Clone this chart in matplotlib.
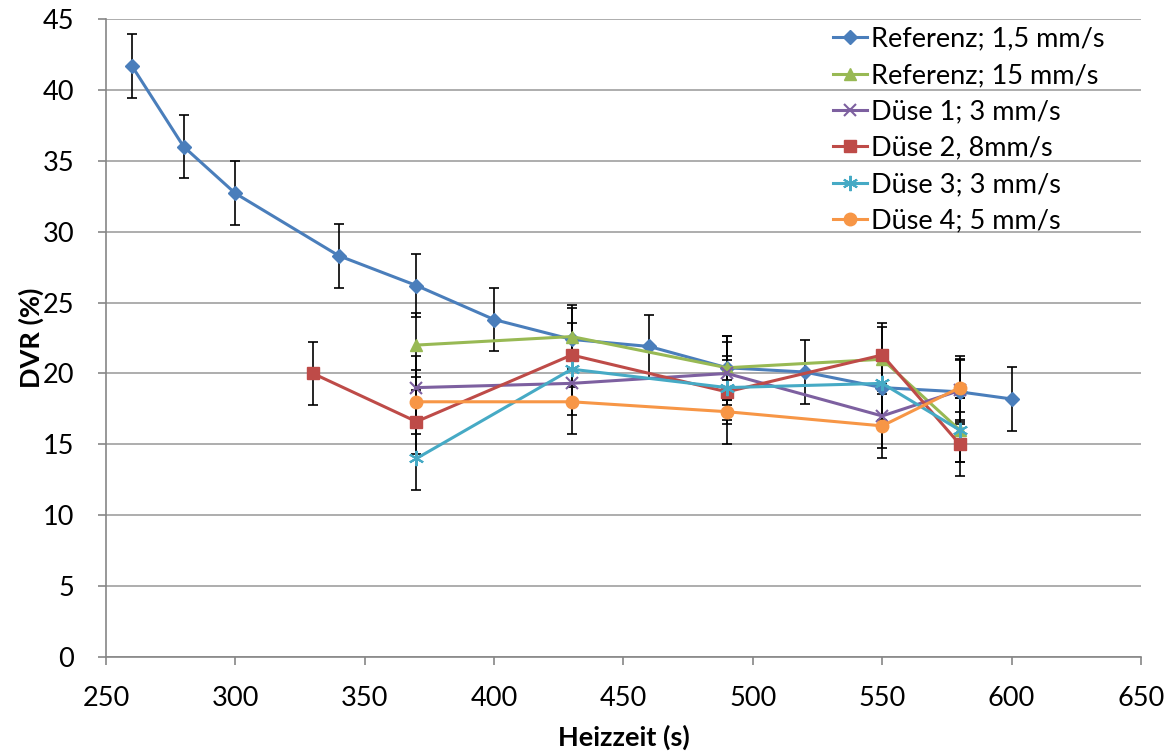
import matplotlib
matplotlib.use("Agg")
import matplotlib.pyplot as plt

plt.rcParams['font.family'] = ['Lato', 'DejaVu Sans']

# Heating time (s) and DVR (%) per series
ref15_x = [260, 280, 300, 340, 370, 400, 430, 460, 490, 520, 550, 580, 600]
ref15_y = [41.7, 36.0, 32.7, 28.3, 26.2, 23.8, 22.4, 21.9, 20.4, 20.1, 19.0, 18.7, 18.2]

ref150_x = [370, 430, 490, 550, 580]
ref150_y = [22.0, 22.6, 20.4, 21.0, 16.0]

d1_x = [370, 430, 490, 550, 580]
d1_y = [19.0, 19.3, 20.0, 17.0, 18.8]

d2_x = [330, 370, 430, 490, 550, 580]
d2_y = [20.0, 16.6, 21.3, 18.7, 21.3, 15.0]

d3_x = [370, 430, 490, 550, 580]
d3_y = [14.0, 20.3, 19.0, 19.3, 16.0]

d4_x = [370, 430, 490, 550, 580]
d4_y = [18.0, 18.0, 17.3, 16.3, 19.0]

err = 2.25

series = [
    ("Referenz; 1,5 mm/s", ref15_x, ref15_y, "#4A7EBB", "D", 7),
    ("Referenz; 15 mm/s", ref150_x, ref150_y, "#98B954", "^", 9),
    ("Düse 1; 3 mm/s", d1_x, d1_y, "#7D60A0", "x", 9),
    ("Düse 2, 8mm/s", d2_x, d2_y, "#BE4B48", "s", 8),
    ("Düse 3; 3 mm/s", d3_x, d3_y, "#46AAC5", (6, 2, 0), 11),
    ("Düse 4; 5 mm/s", d4_x, d4_y, "#F79646", "o", 9),
]

fig = plt.figure(figsize=(11.72, 7.53), dpi=100)
ax = fig.add_axes([0.0904, 0.1275, 0.8831, 0.8473])

for label, xs, ys, col, mk, ms in series:
    ax.errorbar(xs, ys, yerr=err, fmt='none', ecolor='black', elinewidth=1.2,
                capsize=3.8, capthick=1.2, zorder=2)
    ax.plot(xs, ys, color=col, marker=mk, markersize=ms, linewidth=2.2,
            markeredgewidth=1.5 if mk in ("x", (6, 2, 0)) else 1,
            markeredgecolor=col, label=label, zorder=3)

ax.set_xlim(250, 650)
ax.set_ylim(0, 45)
ax.set_xticks(range(250, 651, 50))
ax.set_yticks(range(0, 46, 5))
ax.yaxis.grid(True, color='#A0A0A0', linewidth=1.2)
ax.set_axisbelow(True)
for s in ('top', 'right'):
    ax.spines[s].set_visible(False)
for s in ('left', 'bottom'):
    ax.spines[s].set_color('#868686')
    ax.spines[s].set_linewidth(1.2)
ax.tick_params(axis='both', direction='out', length=6, labelsize=19.5,
               width=1.2, color='#868686')
ax.tick_params(axis='x', pad=15)
ax.tick_params(axis='y', pad=17)

ax.set_xlabel("Heizzeit (s)", fontsize=19.5, fontweight='bold', labelpad=10)
ax.set_ylabel("DVR (%)", fontsize=19.5, fontweight='bold', labelpad=-1)

leg = ax.legend(loc='upper right', bbox_to_anchor=(0.975, 1.005), frameon=False,
                fontsize=19.5, handlelength=1.25, handletextpad=0.15,
                labelspacing=0.42, borderaxespad=0.0)

fig.savefig("out.png", dpi=100)
